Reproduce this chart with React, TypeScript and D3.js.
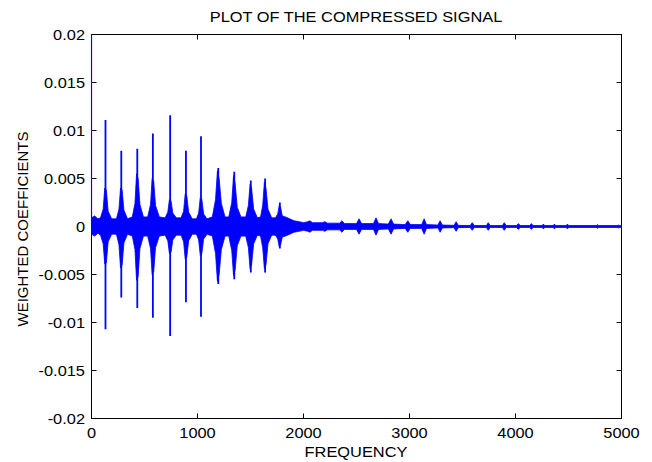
import React from "react";
import * as d3 from "d3";

// Spike centres (Hz) and their extreme values
const burstFreq = [132, 281, 432, 579, 742, 891, 1033, 1196, 1347, 1503, 1638, 1777];
const burstMax = [0.0111, 0.0079, 0.0081, 0.0097, 0.0116, 0.0079, 0.0094, 0.0061, 0.0057, 0.0048, 0.005, 0.0025];
const burstMin = [-0.0107, -0.0074, -0.0085, -0.0095, -0.0114, -0.0079, -0.0094, -0.006, -0.0055, -0.0048, -0.0048, -0.0023];

// First coefficient (runs off the top of the axes)
const firstSample: [number, number][] = [[0, 0.025], [0, 0]];

// Signal envelope: [frequency, upper, lower]
const envelope: [number, number, number][] = [
  [0, 0.0009, -0.0008], [30, 0.0011, -0.001], [60, 0.0008, -0.0007],
  [85, 0.0009, -0.0009], [110, 0.0018, -0.0018], [125, 0.004, -0.0039], [140, 0.0038, -0.0038], [157, 0.0016, -0.0016], [190, 0.0008, -0.0008],
  [235, 0.0008, -0.0008], [259, 0.0018, -0.0019], [274, 0.004, -0.0043], [289, 0.0038, -0.004], [306, 0.0017, -0.0017], [340, 0.0008, -0.0008],
  [385, 0.001, -0.001], [410, 0.0024, -0.0024], [425, 0.0055, -0.0056], [440, 0.005, -0.0052], [457, 0.0023, -0.0023], [490, 0.001, -0.001],
  [530, 0.001, -0.001], [557, 0.0023, -0.0023], [572, 0.005, -0.005], [587, 0.0047, -0.0047], [604, 0.0022, -0.0022], [640, 0.001, -0.001],
  [695, 0.0009, -0.0009], [720, 0.0015, -0.0015], [735, 0.0028, -0.0028], [750, 0.0027, -0.0027], [767, 0.0014, -0.0014], [800, 0.0009, -0.0009],
  [845, 0.0009, -0.0009], [869, 0.0016, -0.0016], [884, 0.0034, -0.0034], [899, 0.0032, -0.0032], [916, 0.0015, -0.0015], [950, 0.0008, -0.0008],
  [990, 0.0008, -0.0008], [1011, 0.0014, -0.0014], [1026, 0.003, -0.003], [1041, 0.0028, -0.0028], [1058, 0.0013, -0.0013], [1090, 0.0008, -0.0008],
  [1140, 0.001, -0.001], [1170, 0.0028, -0.0028], [1188, 0.0058, -0.0057], [1204, 0.005, -0.005], [1225, 0.0024, -0.0024], [1260, 0.001, -0.001],
  [1295, 0.001, -0.001], [1323, 0.0025, -0.0025], [1340, 0.0053, -0.0051], [1355, 0.0045, -0.0045], [1375, 0.002, -0.002], [1410, 0.001, -0.001],
  [1455, 0.001, -0.001], [1480, 0.0022, -0.0022], [1496, 0.0044, -0.0044], [1510, 0.004, -0.004], [1530, 0.0018, -0.0018], [1565, 0.0009, -0.0009],
  [1595, 0.001, -0.001], [1615, 0.0022, -0.0022], [1631, 0.0046, -0.0044], [1646, 0.004, -0.004], [1665, 0.0018, -0.0018], [1700, 0.0009, -0.0009],
  [1735, 0.0009, -0.0009], [1757, 0.0013, -0.0013], [1771, 0.0022, -0.0021], [1784, 0.002, -0.0019], [1800, 0.0011, -0.0011],
  [1830, 0.001, -0.001], [1870, 0.0008, -0.0008], [1910, 0.0006, -0.0006], [1960, 0.0005, -0.0005], [2000, 0.0004, -0.0004],
  [2040, 0.0005, -0.0005], [2060, 0.0006, -0.0006], [2085, 0.0004, -0.0004],
  [2180, 0.0004, -0.0004], [2202, 0.0005, -0.0005], [2225, 0.00035, -0.00035],
  [2340, 0.00035, -0.00035], [2363, 0.0006, -0.0006], [2385, 0.0003, -0.0003],
  [2500, 0.0003, -0.0003], [2524, 0.0008, -0.0008], [2548, 0.0003, -0.0003],
  [2660, 0.0003, -0.0003], [2684, 0.0009, -0.0009], [2708, 0.0003, -0.0003],
  [2800, 0.00025, -0.00025], [2826, 0.0008, -0.0008], [2850, 0.00025, -0.00025],
  [2960, 0.0002, -0.0002], [2984, 0.0006, -0.0006], [3008, 0.0002, -0.0002],
  [3115, 0.0002, -0.0002], [3138, 0.0008, -0.0008], [3160, 0.0002, -0.0002],
  [3268, 0.00015, -0.00015], [3289, 0.0006, -0.0006], [3310, 0.00015, -0.00015],
  [3420, 0.00012, -0.00012], [3440, 0.0005, -0.0005], [3460, 0.00012, -0.00012],
  [3572, 0.0001, -0.0001], [3592, 0.0004, -0.0004], [3612, 0.0001, -0.0001],
  [3725, 0.0001, -0.0001], [3743, 0.0004, -0.0004], [3761, 0.0001, -0.0001],
  [3876, 0.0001, -0.0001], [3894, 0.0004, -0.0004], [3912, 0.0001, -0.0001],
  [4010, 0.0001, -0.0001], [4027, 0.0003, -0.0003], [4044, 0.0001, -0.0001],
  [4135, 0.0001, -0.0001], [4150, 0.0003, -0.0003], [4165, 0.0001, -0.0001],
  [4250, 0.0001, -0.0001], [4263, 0.00025, -0.00025], [4276, 0.0001, -0.0001],
  [4355, 0.0001, -0.0001], [4367, 0.00025, -0.00025], [4379, 0.0001, -0.0001],
  [4478, 0.0001, -0.0001], [4490, 0.00025, -0.00025], [4502, 0.0001, -0.0001],
  [4763, 0.0001, -0.0001], [4773, 0.0002, -0.0002], [4783, 0.0001, -0.0001],
  [4960, 0.0001, -0.0001], [4971, 0.00015, -0.00015], [4982, 0.0001, -0.0001],
  [5000, 0.0001, -0.0001],
];

const xTicks = [0, 1000, 2000, 3000, 4000, 5000];
const yTicks = [-0.02, -0.015, -0.01, -0.005, 0, 0.005, 0.01, 0.015, 0.02];
const yTickLabels = ["-0.02", "-0.015", "-0.01", "-0.005", "0", "0.005", "0.01", "0.015", "0.02"];

const title = "PLOT OF THE COMPRESSED SIGNAL";
const xLabel = "FREQUENCY";
const yLabel = "WEIGHTED COEFFICIENTS";

const W = 652;
const H = 462;
const FONT = "'Liberation Sans', Arial, Helvetica, sans-serif";
const FS = 14.5;
const SX = 1.13;
const BLUE = "#0000ff";

export default function App() {
  const x = d3.scaleLinear().domain([0, 5000]).range([91.5, 621.5]);
  const y = d3.scaleLinear().domain([-0.02, 0.02]).range([418.5, 34.5]);
  const [x0, x1] = x.range();
  const [yb, yt] = y.range();

  const area = d3
    .area<[number, number, number]>()
    .x((d) => x(d[0]))
    .y0((d) => y(d[2]))
    .y1((d) => y(d[1]));
  const line = d3
    .line<[number, number]>()
    .x((d) => x(d[0]))
    .y((d) => y(d[1]));

  const tl = 5;

  return (
    <svg
      width={W}
      height={H}
      style={{ position: "absolute", left: 0, top: 0, background: "#fff" }}
      fontFamily={FONT}
    >
      <defs>
        <clipPath id="plotclip">
          <rect x={x0 - 1} y={yt - 0.5} width={x1 - x0 + 2} height={yb - yt + 1} />
        </clipPath>
      </defs>
      <rect x={0} y={0} width={W} height={H} fill="#fff" />

      {/* frame */}
      <rect x={x0} y={yt} width={x1 - x0} height={yb - yt} fill="none" stroke="#000" strokeWidth={1} />
      {xTicks.map((t) => (
        <g key={"xt" + t}>
          <line x1={x(t)} x2={x(t)} y1={yb} y2={yb - tl} stroke="#000" />
          <line x1={x(t)} x2={x(t)} y1={yt} y2={yt + tl} stroke="#000" />
          <text
            transform={`translate(${x(t)},${437.5}) scale(${SX},1)`}
            textAnchor="middle"
            fontSize={FS}
            fill="#000"
          >
            {t}
          </text>
        </g>
      ))}
      {yTicks.map((t, i) => (
        <g key={"yt" + t}>
          <line x1={x0} x2={x0 + tl} y1={y(t)} y2={y(t)} stroke="#000" />
          <line x1={x1} x2={x1 - tl} y1={y(t)} y2={y(t)} stroke="#000" />
          <text
            transform={`translate(${85},${y(t) + 5}) scale(${SX},1)`}
            textAnchor="end"
            fontSize={FS}
            fill="#000"
          >
            {yTickLabels[i]}
          </text>
        </g>
      ))}

      {/* signal */}
      <g clipPath="url(#plotclip)">
        <path d={area(envelope) || ""} fill={BLUE} stroke={BLUE} strokeWidth={0.8} />
        {burstFreq.map((f, i) => (
          <line
            key={"sp" + i}
            x1={x(f)}
            x2={x(f)}
            y1={y(burstMax[i])}
            y2={y(burstMin[i])}
            stroke={BLUE}
            strokeWidth={1.8}
          />
        ))}
        <path d={line(firstSample) || ""} fill="none" stroke={BLUE} strokeWidth={1.2} />
      </g>

      {/* labels */}
      <text
        transform={`translate(${356},${22}) scale(${SX},1)`}
        textAnchor="middle"
        fontSize={FS}
        fill="#000"
      >
        {title}
      </text>
      <text
        transform={`translate(${356},${457}) scale(${SX},1)`}
        textAnchor="middle"
        fontSize={FS}
        fill="#000"
      >
        {xLabel}
      </text>
      <text
        transform={`translate(${28},${229}) rotate(-90)`}
        textAnchor="middle"
        fontSize={15}
        fill="#000"
      >
        {yLabel}
      </text>
    </svg>
  );
}
